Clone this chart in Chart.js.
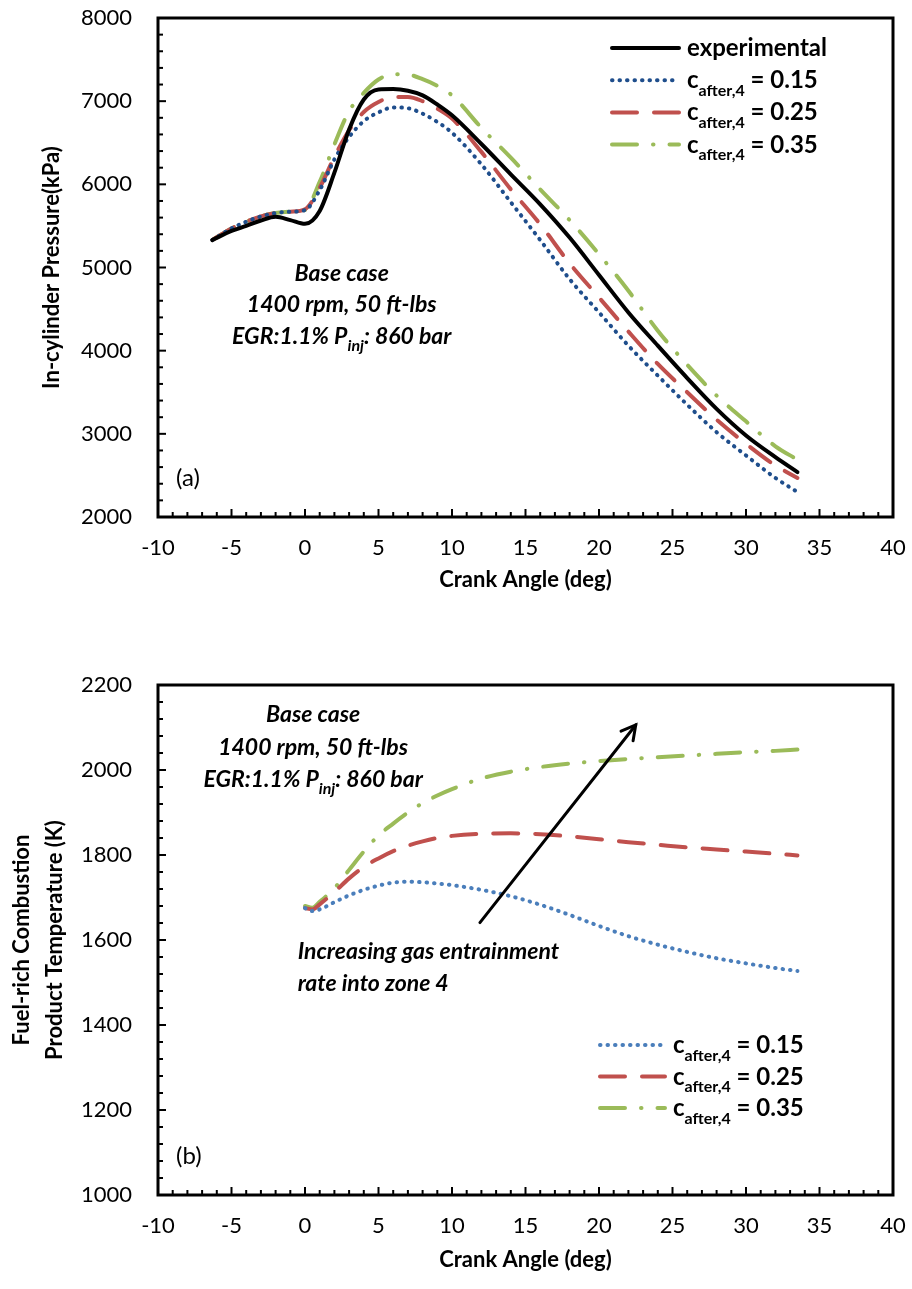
<!DOCTYPE html>
<html>
<head>
<meta charset="utf-8">
<script src="https://cdn.jsdelivr.net/npm/chart.js@4.4.1/dist/chart.umd.min.js"></script>
<style>
  html, body { margin: 0; padding: 0; background: #fff; }
  #wrapA { position: absolute; left: 0; top: 0; width: 912px; height: 640px; }
  #wrapB { position: absolute; left: 0; top: 640px; width: 912px; height: 649px; }
</style>
</head>
<body>
<div id="wrapA"><canvas id="chartA"></canvas></div>
<div id="wrapB"><canvas id="chartB"></canvas></div>
<script>
// ---- data, panel (a): in-cylinder pressure (kPa) vs crank angle (deg)
var angleA = [-6.3, -5, -4, -3, -2, -1, 0, 1, 2, 3, 4, 5, 6, 7, 8, 9, 10, 12, 14, 16, 18, 20, 22, 24, 26, 28, 30, 32, 33.5];
var pressExp = [5330, 5440, 5500, 5565, 5610, 5570, 5525, 5680, 6140, 6660, 7020, 7140, 7145, 7125, 7070, 6960, 6830, 6485, 6120, 5760, 5360, 4910, 4460, 4060, 3670, 3300, 2980, 2720, 2540];
var press015 = [5330, 5470, 5550, 5615, 5655, 5670, 5690, 5930, 6300, 6570, 6760, 6865, 6925, 6915, 6850, 6750, 6620, 6240, 5785, 5330, 4860, 4460, 4060, 3700, 3350, 3020, 2740, 2470, 2300];
var press025 = [5330, 5470, 5550, 5615, 5655, 5670, 5700, 5960, 6330, 6650, 6870, 6990, 7050, 7050, 7000, 6910, 6790, 6390, 5940, 5520, 5050, 4640, 4230, 3840, 3500, 3170, 2880, 2620, 2470];
var press035 = [5330, 5470, 5550, 5615, 5655, 5670, 5690, 6030, 6480, 6880, 7100, 7260, 7325, 7320, 7265, 7185, 7070, 6680, 6320, 5940, 5570, 5160, 4720, 4240, 3830, 3460, 3150, 2850, 2690];

// ---- data, panel (b): fuel-rich combustion product temperature (K)
var angleB = [0, 0.5, 1, 2, 3, 4, 5, 6, 7, 8, 9, 10, 12, 14, 16, 18, 20, 22, 24, 26, 28, 30, 32, 33.5];
var temp015 = [1675, 1668, 1672, 1689, 1705, 1718, 1728, 1735, 1737, 1736, 1733, 1729, 1718, 1703, 1683, 1659, 1633, 1609, 1589, 1572, 1557, 1545, 1534, 1527];
var temp025 = [1675, 1672, 1684, 1713, 1745, 1772, 1792, 1809, 1822, 1832, 1840, 1845, 1850, 1851, 1849, 1844, 1837, 1830, 1824, 1818, 1813, 1808, 1803, 1799];
var temp035 = [1680, 1676, 1690, 1722, 1765, 1808, 1846, 1874, 1900, 1922, 1940, 1955, 1980, 1996, 2007, 2015, 2021, 2026, 2030, 2034, 2038, 2042, 2045, 2048];

// axis ranges
var xRange = [-10, 40];
var yRangeA = [2000, 8000];
var yRangeB = [1000, 2200];

// text notes (anchored in data units)
var notesA = [
  { x: 2.5, y: 4933, parts: [['Base case', 0]] },
  { x: 2.5, y: 4560, parts: [['1400 rpm, 50 ft-lbs', 0]] },
  { x: 2.5, y: 4176, parts: [['EGR:1.1% P', 0], ['inj', 1], [': 860 bar', 0]] }
];
var notesB = [
  { x: 0.55, y: 2132, parts: [['Base case', 0]] },
  { x: 0.55, y: 2054, parts: [['1400 rpm, 50 ft-lbs', 0]] },
  { x: 0.55, y: 1979, parts: [['EGR:1.1% P', 0], ['inj', 1], [': 860 bar', 0]] },
  { x: -0.5, y: 1573, left: true, parts: [['Increasing gas entrainment', 0]] },
  { x: -0.5, y: 1500, left: true, parts: [['rate into zone 4', 0]] }
];
var arrowB = { from: [11.9, 1641], to: [22.5, 2106] };

var labelExp = [['experimental', 0]];
var label015 = [['c', 0], ['after,4', 1], [' = 0.15', 0]];
var label025 = [['c', 0], ['after,4', 1], [' = 0.25', 0]];
var label035 = [['c', 0], ['after,4', 1], [' = 0.35', 0]];

var FONT = 'Lato, "Open Sans", sans-serif';

function series(xs, ys) {
  return xs.map(function (x, i) { return { x: x, y: ys[i] }; });
}

function lineDs(label, xs, ys, color, width, dash) {
  return {
    label: label,
    data: series(xs, ys),
    borderColor: color,
    borderWidth: width,
    borderDash: dash,
    borderCapStyle: 'round',
    borderJoinStyle: 'round',
    pointRadius: 0,
    fill: false,
    cubicInterpolationMode: 'monotone'
  };
}

// text with subscripts, parts = [[text, isSub], ...]
function drawRich(ctx, parts, x, y, size, style, centered) {
  var main = style + ' ' + size + 'px ' + FONT;
  var sub = style + ' ' + Math.round(size * 0.68) + 'px ' + FONT;
  var w = 0;
  parts.forEach(function (p) { ctx.font = p[1] ? sub : main; w += ctx.measureText(p[0]).width; });
  var cx = centered ? x - w / 2 : x;
  ctx.textAlign = 'left';
  ctx.textBaseline = 'alphabetic';
  parts.forEach(function (p) {
    ctx.font = p[1] ? sub : main;
    ctx.fillText(p[0], cx, y + (p[1] ? size * 0.32 : 0));
    cx += ctx.measureText(p[0]).width;
  });
}

var frameTicks = {
  id: 'frameTicks',
  afterDatasetsDraw: function (chart, args, opts) {
    var ctx = chart.ctx, a = chart.chartArea, x = chart.scales.x, y = chart.scales.y;
    ctx.save();
    ctx.strokeStyle = '#000';
    ctx.lineWidth = 2;
    var v, p, major;
    for (v = x.min; v <= x.max + 1e-9; v += opts.xMinor) {
      p = x.getPixelForValue(v);
      major = Math.abs(v / opts.xMajor - Math.round(v / opts.xMajor)) < 1e-6;
      ctx.beginPath(); ctx.moveTo(p, a.bottom); ctx.lineTo(p, a.bottom - (major ? 8 : 5)); ctx.stroke();
    }
    for (v = y.min; v <= y.max + 1e-9; v += opts.yMinor) {
      p = y.getPixelForValue(v);
      major = Math.abs(v / opts.yMajor - Math.round(v / opts.yMajor)) < 1e-6;
      ctx.beginPath(); ctx.moveTo(a.left, p); ctx.lineTo(a.left + (major ? 8 : 5), p); ctx.stroke();
    }
    ctx.lineWidth = 3;
    ctx.strokeRect(a.left, a.top, a.right - a.left, a.bottom - a.top);
    ctx.restore();
  }
};

var notesPlugin = {
  id: 'notes',
  afterDraw: function (chart, args, opts) {
    var ctx = chart.ctx, a = chart.chartArea, x = chart.scales.x, y = chart.scales.y;
    ctx.save();
    ctx.fillStyle = '#000';
    (opts.notes || []).forEach(function (n) {
      drawRich(ctx, n.parts, x.getPixelForValue(n.x), y.getPixelForValue(n.y) + 8, 23, 'italic bold', !n.left);
    });
    if (opts.arrow) {
      var x0 = x.getPixelForValue(opts.arrow.from[0]), y0 = y.getPixelForValue(opts.arrow.from[1]);
      var x1 = x.getPixelForValue(opts.arrow.to[0]), y1 = y.getPixelForValue(opts.arrow.to[1]);
      var ang = Math.atan2(y1 - y0, x1 - x0), hl = 16, ha = 0.5;
      ctx.strokeStyle = '#000';
      ctx.lineWidth = 3;
      ctx.lineCap = 'round';
      ctx.beginPath(); ctx.moveTo(x0, y0); ctx.lineTo(x1, y1); ctx.stroke();
      ctx.beginPath();
      ctx.moveTo(x1 - hl * Math.cos(ang - ha), y1 - hl * Math.sin(ang - ha));
      ctx.lineTo(x1, y1);
      ctx.lineTo(x1 - hl * Math.cos(ang + ha), y1 - hl * Math.sin(ang + ha));
      ctx.stroke();
    }
    // panel letter
    ctx.font = '24px ' + FONT;
    ctx.textAlign = 'left';
    ctx.textBaseline = 'middle';
    ctx.fillText(opts.letter, a.left + 18, a.bottom - 39);

    // legend with subscripts
    var lg = opts.legend;
    lg.items.forEach(function (it, i) {
      var ds = chart.data.datasets[it.ds];
      var ry = a.top + lg.top + i * lg.gap;
      ctx.save();
      ctx.strokeStyle = ds.borderColor;
      ctx.lineWidth = ds.borderWidth;
      ctx.lineCap = 'round';
      ctx.setLineDash(ds.borderDash || []);
      ctx.beginPath(); ctx.moveTo(a.right - lg.right, ry); ctx.lineTo(a.right - lg.right + lg.sample, ry); ctx.stroke();
      ctx.restore();
      drawRich(ctx, it.parts, a.right - lg.right + lg.sample + 8, ry + 8, 24, 'bold', false);
    });
    ctx.restore();
  }
};

function plain(v) { return String(v); }

function axes(yRange, yStep, yTitle, yTitleOpts, xHeight, xTitlePad) {
  return {
    x: {
      type: 'linear', min: xRange[0], max: xRange[1],
      ticks: { stepSize: 5, color: '#000', padding: 18, font: { family: FONT, size: 22 }, callback: plain },
      grid: { display: false, drawTicks: false },
      border: { display: false },
      title: { display: true, text: 'Crank Angle (deg)', color: '#000', font: { family: FONT, size: 22, weight: 'bold' }, padding: { top: 0, bottom: xTitlePad } },
      afterFit: function (s) { s.height = xHeight; s.paddingLeft = 0; s.paddingRight = 12; }
    },
    y: {
      min: yRange[0], max: yRange[1],
      ticks: { stepSize: yStep, color: '#000', padding: 26, font: { family: FONT, size: 22 }, callback: plain },
      grid: { display: false, drawTicks: false },
      border: { display: false },
      title: Object.assign({ display: true, text: yTitle, color: '#000' }, yTitleOpts),
      afterFit: function (s) { s.width = 158; s.paddingTop = 12; s.paddingBottom = 12; }
    }
  };
}

new Chart(document.getElementById('chartA'), {
  type: 'line',
  data: {
    datasets: [
      lineDs('experimental', angleA, pressExp, '#000000', 4, []),
      lineDs('c_after,4 = 0.15', angleA, press015, '#1F4E8C', 4, [0.5, 7]),
      lineDs('c_after,4 = 0.25', angleA, press025, '#C0504D', 4, [25, 17]),
      lineDs('c_after,4 = 0.35', angleA, press035, '#9BBB59', 4, [25, 16, 0.5, 16])
    ]
  },
  options: {
    responsive: true, maintainAspectRatio: false, animation: false,
    layout: { padding: { top: 18, right: 19, left: 0, bottom: 0 } },
    scales: axes(yRangeA, 1000, 'In-cylinder Pressure(kPa)',
      { font: { family: FONT, size: 22, weight: 'bold' }, padding: { top: 39, bottom: 0 } }, 123, 47),
    plugins: {
      legend: { display: false },
      tooltip: { enabled: false },
      frameTicks: { xMinor: 1, xMajor: 5, yMinor: 200, yMajor: 1000 },
      notes: {
        notes: notesA, letter: '(a)',
        legend: { top: 30, gap: 32.2, right: 281, sample: 67,
          items: [{ ds: 0, parts: labelExp }, { ds: 1, parts: label015 }, { ds: 2, parts: label025 }, { ds: 3, parts: label035 }] }
      }
    }
  },
  plugins: [frameTicks, notesPlugin]
});

new Chart(document.getElementById('chartB'), {
  type: 'line',
  data: {
    datasets: [
      lineDs('c_after,4 = 0.15', angleB, temp015, '#4A7EBB', 4, [0.5, 7]),
      lineDs('c_after,4 = 0.25', angleB, temp025, '#C0504D', 4, [25, 17]),
      lineDs('c_after,4 = 0.35', angleB, temp035, '#9BBB59', 4, [25, 16, 0.5, 16])
    ]
  },
  options: {
    responsive: true, maintainAspectRatio: false, animation: false,
    layout: { padding: { top: 45, right: 19, left: 0, bottom: 0 } },
    scales: axes(yRangeB, 200, ['Fuel-rich Combustion', 'Product Temperature (K)'],
      { font: { family: FONT, size: 22, weight: 'bold', lineHeight: 1.5 }, padding: { top: 5, bottom: 0 } }, 94, 16),
    plugins: {
      legend: { display: false },
      tooltip: { enabled: false },
      frameTicks: { xMinor: 1, xMajor: 5, yMinor: 40, yMajor: 200 },
      notes: {
        notes: notesB, arrow: arrowB, letter: '(b)',
        legend: { top: 360, gap: 31.5, right: 293, sample: 65,
          items: [{ ds: 0, parts: label015 }, { ds: 1, parts: label025 }, { ds: 2, parts: label035 }] }
      }
    }
  },
  plugins: [frameTicks, notesPlugin]
});
</script>
</body>
</html>
